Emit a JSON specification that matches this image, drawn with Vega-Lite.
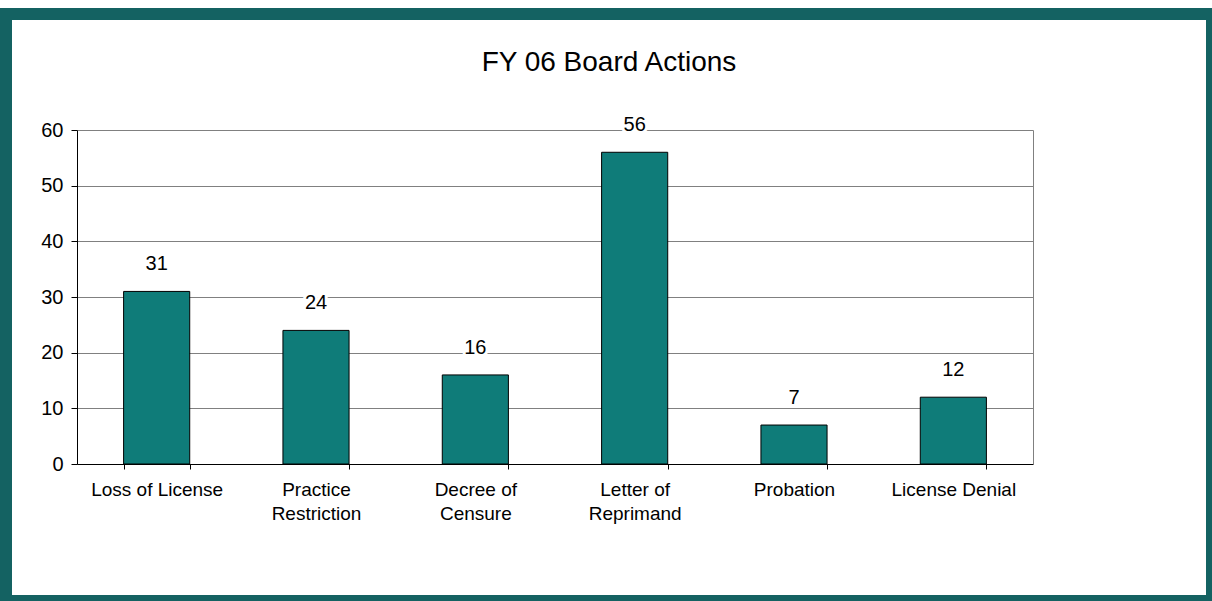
{
  "$schema": "https://vega.github.io/schema/vega-lite/v6.json",
  "width": 1206,
  "height": 587,
  "autosize": {"type": "none"},
  "padding": {"left": 6, "top": 14, "right": 0, "bottom": 0},
  "background": "white",
  "title": {
    "text": "FY 06 Board Actions",
    "font": "Liberation Sans",
    "fontSize": 28,
    "fontWeight": "normal",
    "color": "black",
    "anchor": "middle",
    "frame": "group",
    "baseline": "alphabetic",
    "offset": -85
  },
  "config": {
    "view": {"fill": "white", "stroke": "#146262", "strokeWidth": 12}
  },
  "data": {
    "values": [
      {"action": "Loss of License", "count": 31},
      {"action": "Practice|Restriction", "count": 24},
      {"action": "Decree of|Censure", "count": 16},
      {"action": "Letter of|Reprimand", "count": 56},
      {"action": "Probation", "count": 7},
      {"action": "License Denial", "count": 12}
    ]
  },
  "encoding": {
    "x": {
      "field": "action",
      "type": "nominal",
      "sort": null,
      "scale": {"range": [71, 1027], "paddingInner": 0.585, "paddingOuter": 0.2925},
      "axis": {
        "title": null,
        "offset": -137,
        "domainColor": "black",
        "tickColor": "black",
        "tickSize": 5,
        "tickBand": "extent",
        "labelAngle": 0,
        "labelFont": "Liberation Sans",
        "labelFontSize": 19,
        "labelColor": "black",
        "labelPadding": 11,
        "labelLineHeight": 24,
        "labelBaseline": "top",
        "labelExpr": "split(datum.label, '|')",
        "grid": false
      }
    },
    "y": {
      "field": "count",
      "type": "quantitative",
      "scale": {"domain": [0, 60], "range": [450, 116], "nice": false}
    }
  },
  "layer": [
    {
      "mark": {"type": "bar", "fill": "#0f7c79", "stroke": "black", "strokeWidth": 1},
      "encoding": {
        "y": {
          "field": "count",
          "type": "quantitative",
          "axis": {
            "title": null,
            "offset": -71,
            "values": [0, 10, 20, 30, 40, 50, 60],
            "domainColor": "black",
            "tickColor": "black",
            "tickSize": 6,
            "grid": true,
            "gridColor": "#808080",
            "gridOpacity": 1,
            "labelFont": "Liberation Sans",
            "labelFontSize": 20,
            "labelColor": "black",
            "labelPadding": 8,
            "zindex": 0
          }
        }
      }
    },
    {
      "mark": {"type": "text", "dy": -27, "font": "Liberation Sans", "fontSize": 20, "baseline": "middle", "fill": "white", "stroke": "white", "strokeWidth": 6, "strokeJoin": "round"},
      "encoding": {
        "y": {"field": "count", "type": "quantitative", "axis": null},
        "text": {"field": "count", "type": "quantitative"}
      }
    },
    {
      "mark": {"type": "text", "dy": -27, "font": "Liberation Sans", "fontSize": 20, "baseline": "middle", "fill": "black"},
      "encoding": {
        "y": {
          "field": "count",
          "type": "quantitative",
          "axis": {"orient": "right", "offset": -179, "domainColor": "#808080", "labels": false, "ticks": false, "grid": false, "title": null}
        },
        "text": {"field": "count", "type": "quantitative"}
      }
    }
  ],
  "resolve": {"axis": {"y": "independent"}}
}
